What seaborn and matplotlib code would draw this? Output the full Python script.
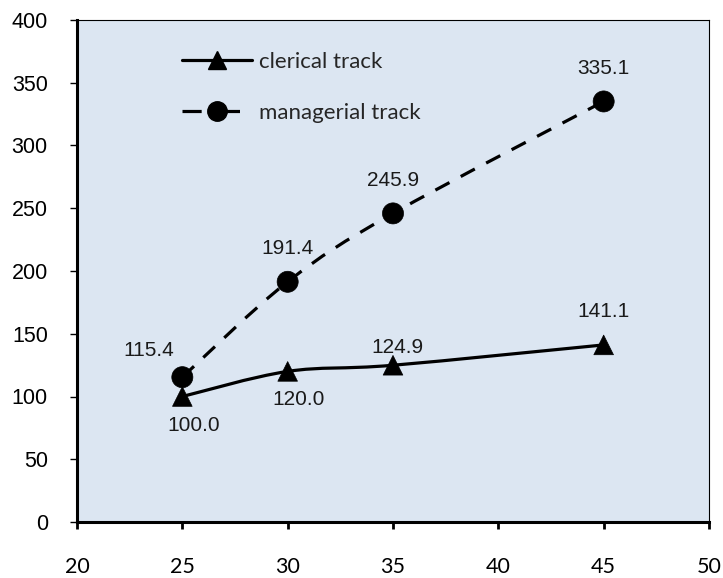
import matplotlib
matplotlib.use("Agg")
import matplotlib.pyplot as plt
from matplotlib import font_manager
from matplotlib.path import Path
from matplotlib.patches import PathPatch
from matplotlib.lines import Line2D
import seaborn as sns
import pandas as pd

# Data
ages = [25, 30, 35, 45]
clerical = [100.0, 120.0, 124.9, 141.1]
managerial = [115.4, 191.4, 245.9, 335.1]
series_names = ["clerical track", "managerial track"]
x_ticks = [20, 25, 30, 35, 40, 45, 50]
y_ticks = [0, 50, 100, 150, 200, 250, 300, 350, 400]

# Label offsets (points) for each value annotation
clerical_offsets = [(8, -21), (8, -20), (3, 13), (0, 24)]
managerial_offsets = [(-24, 19), (0, 24), (0, 24), (0, 24)]

sns.set_style("ticks")
available = {f.name for f in font_manager.fontManager.ttflist}
if "Liberation Sans Narrow" in available:
    num_font, label_size, ytick_size = "Liberation Sans Narrow", 17, 17.5
else:
    num_font, label_size, ytick_size = "Liberation Sans", 15, 15.5
plt.rcParams["font.family"] = ["Liberation Sans", "DejaVu Sans"]

BG = "#DCE6F2"

df = pd.DataFrame({
    "age": ages * 2,
    "value": clerical + managerial,
    "series": [series_names[0]] * len(ages) + [series_names[1]] * len(ages),
})

fig = plt.figure(figsize=(7.23, 5.78), dpi=100)
ax = fig.add_axes([77 / 723, 1 - 522 / 578, (709 - 77) / 723, (522 - 20) / 578])
ax.set_facecolor(BG)


def smooth_path(xs, ys):
    """Cubic Bezier path through the points (Catmull-Rom style smoothing)."""
    pts = list(zip(xs, ys))
    verts = [pts[0]]
    codes = [Path.MOVETO]
    n = len(pts)
    for i in range(n - 1):
        p0 = pts[i - 1] if i > 0 else pts[i]
        p1 = pts[i]
        p2 = pts[i + 1]
        p3 = pts[i + 2] if i + 2 < n else pts[i + 1]
        c1 = (p1[0] + (p2[0] - p0[0]) / 6, p1[1] + (p2[1] - p0[1]) / 6)
        c2 = (p2[0] - (p3[0] - p1[0]) / 6, p2[1] - (p3[1] - p1[1]) / 6)
        verts += [c1, c2, p2]
        codes += [Path.CURVE4] * 3
    return Path(verts, codes)


LW = 2.3
DASH = (0, (5.0, 4.0))

ax.add_patch(PathPatch(smooth_path(ages, clerical), facecolor="none",
                       edgecolor="black", lw=LW, zorder=2))
ax.add_patch(PathPatch(smooth_path(ages, managerial), facecolor="none",
                       edgecolor="black", lw=LW, linestyle=DASH, zorder=2))

sns.scatterplot(data=df, x="age", y="value", style="series",
                markers={series_names[0]: "^", series_names[1]: "o"},
                size="series", sizes={series_names[0]: 200, series_names[1]: 230},
                color="black", edgecolor="black", linewidth=0.5,
                legend=False, ax=ax, zorder=3)

for x, y, off in zip(ages, clerical, clerical_offsets):
    ax.annotate(f"{y:.1f}", (x, y), xytext=off, textcoords="offset points",
                ha="center", va="center", fontsize=label_size,
                family=[num_font, "DejaVu Sans"], color="#1a1a1a")
for x, y, off in zip(ages, managerial, managerial_offsets):
    ax.annotate(f"{y:.1f}", (x, y), xytext=off, textcoords="offset points",
                ha="center", va="center", fontsize=label_size,
                family=[num_font, "DejaVu Sans"], color="#1a1a1a")

ax.set_xlim(20, 50)
ax.set_ylim(0, 400)
ax.set_xticks(x_ticks)
ax.set_yticks(y_ticks)
ax.set_xlabel("")
ax.set_ylabel("")

ax.tick_params(axis="y", direction="out", length=5, width=1.0, pad=16, colors="black",
               labelsize=ytick_size, labelfontfamily=num_font)
ax.tick_params(axis="x", direction="out", length=5, width=2.0, pad=20, colors="black",
               labelsize=15.5, labelfontfamily="Lato")

for side in ["left", "bottom"]:
    ax.spines[side].set_linewidth(2.2)
    ax.spines[side].set_color("black")
for side in ["top", "right"]:
    ax.spines[side].set_visible(True)
    ax.spines[side].set_linewidth(0.8)
    ax.spines[side].set_color("black")

handles = [
    Line2D([], [], color="black", lw=LW, marker="^", markersize=13),
    Line2D([], [], color="black", lw=LW, linestyle=(0, (6.0, 6.0)), marker="o", markersize=14),
]
leg = ax.legend(handles, series_names, loc="upper left", bbox_to_anchor=(0.135, 0.977),
                frameon=False, handlelength=3.15, handletextpad=0.32, labelspacing=1.42,
                prop={"family": ["Lato", "DejaVu Sans"], "size": 16})

fig.savefig("out.png", dpi=100, facecolor="white")
